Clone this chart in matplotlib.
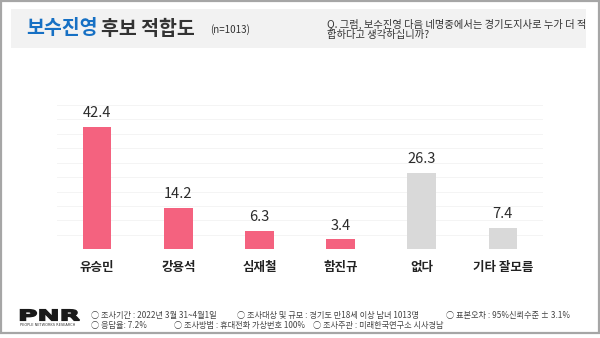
import matplotlib.pyplot as plt
from matplotlib.patches import Rectangle, PathPatch
from matplotlib.textpath import TextPath
from matplotlib.font_manager import FontProperties
from matplotlib.transforms import Affine2D

plt.rcParams['font.family'] = ['Noto Sans CJK KR', 'DejaVu Sans']

# data
categories = ['유승민', '강용석', '심재철', '함진규', '없다', '기타 잘모름']
values = [42.4, 14.2, 6.3, 3.4, 26.3, 7.4]
bar_colors = ['#F4627F', '#F4627F', '#F4627F', '#F4627F', '#D9D9D9', '#D9D9D9']

title_blue = '보수진영'
title_rest = '후보 적합도'
sample_note = '(n=1013)'
question = ['Q. 그럼, 보수진영 다음 네명중에서는 경기도지사로 누가 더 적',
            '합하다고 생각하십니까?']
footer_line1 = ['○ 조사기간 : 2022년 3월 31~4월1일',
                '○ 조사대상 및 규모 : 경기도 만18세 이상 남녀 1013명',
                '○ 표본오차 : 95%신뢰수준 ± 3.1%']
footer_line2 = ['○ 응답율: 7.2%',
                '○ 조사방법 : 휴대전화 가상번호 100%',
                '○ 조사주관 : 미래한국연구소 시사경남']

W, H = 600, 338
fig = plt.figure(figsize=(6, 3.38), dpi=100)
fig.patch.set_facecolor('white')

def fx(px):
    return px / W

def fy(py):
    return 1 - py / H

# outer frame
fig.patches.append(Rectangle((fx(1), fy(333)), fx(598), 332 / H, transform=fig.transFigure,
                             facecolor='none', edgecolor='#A6A6A6', lw=1.6))
# title panel
fig.patches.append(Rectangle((fx(11), fy(47.7)), fx(574.7), 38.4 / H, transform=fig.transFigure,
                             facecolor='#F2F2F2', edgecolor='none'))

fig.text(fx(26), fy(29), title_blue, color='#1670C4', fontsize=14, fontweight='bold',
         va='center', ha='left')
fig.text(fx(101), fy(29), title_rest, color='#333333', fontsize=14, fontweight='bold',
         va='center', ha='left')
fig.text(fx(210), fy(30), sample_note, color='#333333', fontsize=7, va='center', ha='left')
fig.text(fx(327), fy(24.3), question[0], color='#333333', fontsize=7.4, va='center', ha='left')
fig.text(fx(327), fy(35), question[1], color='#333333', fontsize=7.4, va='center', ha='left')

# chart
ax = fig.add_axes([fx(56.7), fy(249.3), fx(486.6), (249.3 - 105) / H])
x = range(len(categories))
ax.bar(x, values, width=0.35, color=bar_colors, zorder=2)
ax.set_xlim(-0.5, len(categories) - 0.5)
ax.set_ylim(0, 50)
ax.set_yticks(range(0, 51, 5))
ax.yaxis.grid(True, color='#F4F4F4', lw=0.7, zorder=0)
ax.set_axisbelow(True)
ax.tick_params(axis='y', left=False, labelleft=False)
ax.tick_params(axis='x', bottom=False, pad=5)
ax.set_xticks(list(x))
ax.set_xticklabels(categories, fontsize=9, fontweight='bold', color='#222222')
for s in ax.spines.values():
    s.set_visible(False)

for i, v in enumerate(values):
    ax.annotate(f'{v:.1f}', (i, v), xytext=(0, 5), textcoords='offset points',
                ha='center', va='bottom', fontsize=10.5, fontweight='medium', color='#2B2B2B')

# footer logo, stretched to the reference's wide letterforms
logo = TextPath((0, 0), 'PNR', size=10, prop=FontProperties(family='DejaVu Sans', weight='bold'))
lb = logo.get_extents()
sx = 59.0 / lb.width
sy = 10.6 / lb.height
logo_tr = Affine2D().translate(-lb.x0, -lb.y0).scale(sx, sy).translate(20.5, H - 320.3)
fig.patches.append(PathPatch(logo, transform=logo_tr, facecolor='#1A1A1A', edgecolor='#1A1A1A',
                             lw=1.1))
fig.text(fx(20), fy(325.5), 'PEOPLE NETWORKS RESEARCH', fontsize=2.5, color='#333333',
         va='center', ha='left', family='DejaVu Sans')
for txt, px in zip(footer_line1, [91, 237, 446]):
    fig.text(fx(px), fy(315.3), txt, fontsize=5.9, color='#444444', va='center', ha='left')
for txt, px in zip(footer_line2, [91, 174, 313]):
    fig.text(fx(px), fy(325.5), txt, fontsize=5.9, color='#444444', va='center', ha='left')

fig.savefig('out.png', dpi=100)
